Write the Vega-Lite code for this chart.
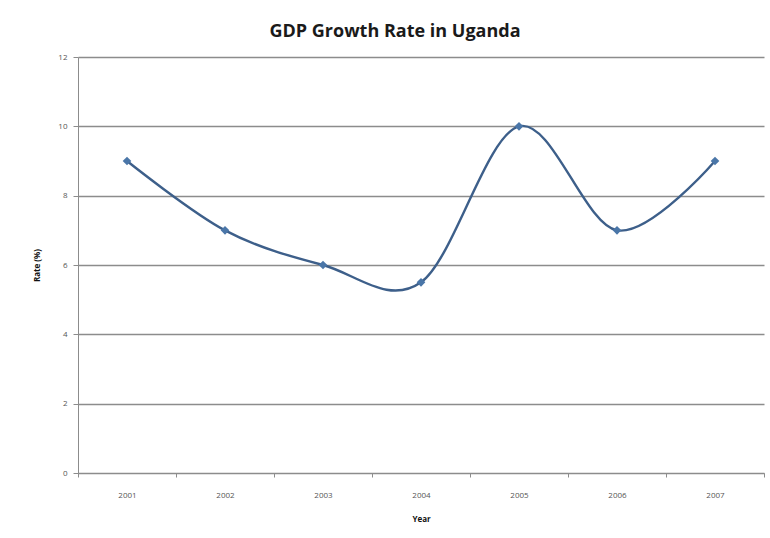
{
  "$schema": "https://vega.github.io/schema/vega-lite/v6.json",
  "width": 686,
  "height": 416,
  "autosize": {"type": "none"},
  "padding": {"left": 78, "top": 57, "right": 6, "bottom": 65},
  "background": "white",
  "title": {
    "text": "GDP Growth Rate in Uganda",
    "font": "Open Sans",
    "fontSize": 18,
    "fontWeight": "bold",
    "color": "#1a1a1a",
    "anchor": "middle",
    "dx": -26,
    "offset": 12
  },
  "config": {
    "view": {"stroke": null},
    "axis": {
      "labelFont": "Open Sans",
      "titleFont": "Open Sans",
      "labelFontSize": 8,
      "labelColor": "#555555",
      "titleFontSize": 8,
      "titleFontWeight": "bold",
      "titleColor": "#111111",
      "domainColor": "#8c8c8c",
      "tickColor": "#8c8c8c",
      "gridColor": "#8c8c8c",
      "gridWidth": 1.3
    }
  },
  "data": {
    "values": [
      {"Year": "2001", "Rate": 9},
      {"Year": "2002", "Rate": 7},
      {"Year": "2003", "Rate": 6},
      {"Year": "2004", "Rate": 5.5},
      {"Year": "2005", "Rate": 10},
      {"Year": "2006", "Rate": 7},
      {"Year": "2007", "Rate": 9}
    ]
  },
  "encoding": {
    "x": {
      "field": "Year",
      "type": "ordinal",
      "scale": {"type": "band", "paddingInner": 0, "paddingOuter": 0},
      "axis": {
        "title": "Year",
        "labelAngle": 0,
        "tickBand": "extent",
        "tickSize": 4,
        "labelPadding": 14,
        "titleX": 343,
        "titleY": 42,
        "grid": false
      }
    },
    "y": {
      "field": "Rate",
      "type": "quantitative",
      "scale": {"domain": [0, 12]},
      "axis": {
        "title": "Rate (%)",
        "values": [0, 2, 4, 6, 8, 10, 12],
        "grid": true,
        "tickSize": 5,
        "labelPadding": 6,
        "titlePadding": 16
      }
    }
  },
  "layer": [
    {
      "mark": {"type": "line", "interpolate": "cardinal", "tension": 0, "color": "#3d5f8a", "strokeWidth": 2.4}
    },
    {
      "mark": {"type": "point", "shape": "diamond", "filled": true, "size": 75, "color": "#4a76a8", "opacity": 1}
    }
  ]
}
